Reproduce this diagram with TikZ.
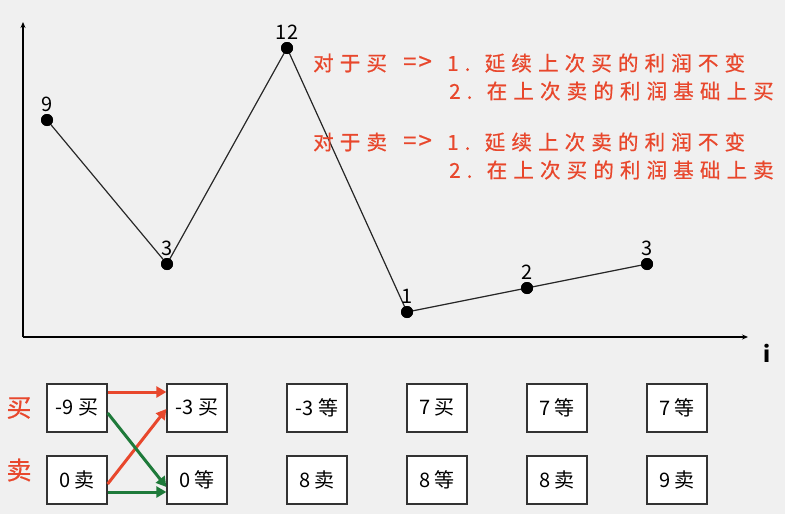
\documentclass[tikz,border=0pt]{standalone}
\usepackage{fontspec}
\usetikzlibrary{arrows.meta}
\newfontfamily\cjk{Noto Sans CJK SC}
\newfontfamily\cjkls[LetterSpace=30,FakeBold=0.6]{Noto Sans CJK SC}
\newfontfamily\cjkfb[FakeBold=0.6]{Noto Sans CJK SC}
\definecolor{bgc}{HTML}{F0F0F0}
\definecolor{redc}{HTML}{E8472C}
\definecolor{greenc}{HTML}{1E7A3A}
\tikzset{
  pt/.style={circle,fill=black,inner sep=0pt,minimum size=12pt},
  val/.style={font=\cjk\fontsize{20}{20}\selectfont,inner sep=1pt},
  box/.style={draw=black!80,line width=1.3pt,fill=white,minimum width=60pt,minimum height=48pt,inner sep=0pt,font=\cjk\fontsize{20}{20}\selectfont},
  rtext/.style={anchor=west,text=redc,inner sep=0pt,font=\cjkls\fontsize{20.5}{20.5}\selectfont},
  rsym/.style={anchor=west,text=redc,inner sep=0pt,font=\cjkfb\fontsize{24}{24}\selectfont},
  side/.style={text=redc,inner sep=0pt,font=\cjkfb\fontsize{25}{25}\selectfont},
  axis/.style={line width=1.2pt,-{Stealth[length=6pt,width=5pt]}},
  curve/.style={line width=1.2pt,black!85},
  rarr/.style={line width=3pt,redc,-{Triangle[length=10pt,width=11pt]}},
  garr/.style={line width=3pt,greenc,-{Triangle[length=10pt,width=11pt]}},
}
\begin{document}
\begin{tikzpicture}[x=1pt,y=-1pt]
\fill[bgc] (0,0) rectangle (785,514);
\useasboundingbox (0,0) rectangle (785,514);
% axes
\coordinate (o) at (23,337);
\coordinate (ytop) at (23,22);
\coordinate (xend) at (748,337);
\draw[axis] (o) -- (ytop);
\draw[axis] (o) -- (xend);
\node[font=\cjk\fontsize{22}{22}\selectfont\bfseries,inner sep=0pt] (ilab) at (767,353) {i};
% price points
\node[pt] (p1) at (47,120) {};
\node[pt] (p2) at (167,264) {};
\node[pt] (p3) at (287,48) {};
\node[pt] (p4) at (407,312) {};
\node[pt] (p5) at (527,288) {};
\node[pt] (p6) at (647,264) {};
\draw[curve] (p1.center) -- (p2.center) -- (p3.center) -- (p4.center) -- (p5.center) -- (p6.center);
\foreach \n in {1,...,6} {\node[pt] at (p\n) {};}
\node[val] (l1) at (47,104) {9};
\node[val] (l2) at (167,248) {3};
\node[val] (l3) at (287,32) {12};
\node[val] (l4) at (407,296) {1};
\node[val] (l5) at (527,272) {2};
\node[val] (l6) at (647,248) {3};
% rules
\node[rtext] (r1a) at (313,63) {对于买};
\node[rsym] (r1s) at (403,63) {=\hspace{2pt}>};
\node[rtext] (r1b) at (447,63) {1. 延续上次买的利润不变};
\node[rtext] (r1c) at (449,91) {2. 在上次卖的利润基础上买};
\node[rtext] (r2a) at (313,142) {对于卖};
\node[rsym] (r2s) at (403,142) {=\hspace{2pt}>};
\node[rtext] (r2b) at (447,142) {1. 延续上次卖的利润不变};
\node[rtext] (r2c) at (449,170) {2. 在上次买的利润基础上卖};
% side labels
\node[side] (buy) at (19,408) {买};
\node[side] (sell) at (19,470) {卖};
% boxes
\node[box] (b1) at (77,408) {-9 买};
\node[box] (b2) at (197,408) {-3 买};
\node[box] (b3) at (317,408) {-3 等};
\node[box] (b4) at (437,408) {7 买};
\node[box] (b5) at (557,408) {7 等};
\node[box] (b6) at (677,408) {7 等};
\node[box] (s1) at (77,480) {0 卖};
\node[box] (s2) at (197,480) {0 等};
\node[box] (s3) at (317,480) {8 卖};
\node[box] (s4) at (437,480) {8 等};
\node[box] (s5) at (557,480) {8 卖};
\node[box] (s6) at (677,480) {9 卖};
% transitions
\draw[rarr] ([yshift=16pt]b1.east) -- ([yshift=16pt]b2.west);
\draw[rarr] ([yshift=-4pt]s1.east) -- ([yshift=-1pt]b2.west);
\draw[garr] ([yshift=-5pt]b1.east) -- ([yshift=-7pt]s2.west);
\draw[garr] ([yshift=-12pt]s1.east) -- ([yshift=-12pt]s2.west);
\end{tikzpicture}
\end{document}
